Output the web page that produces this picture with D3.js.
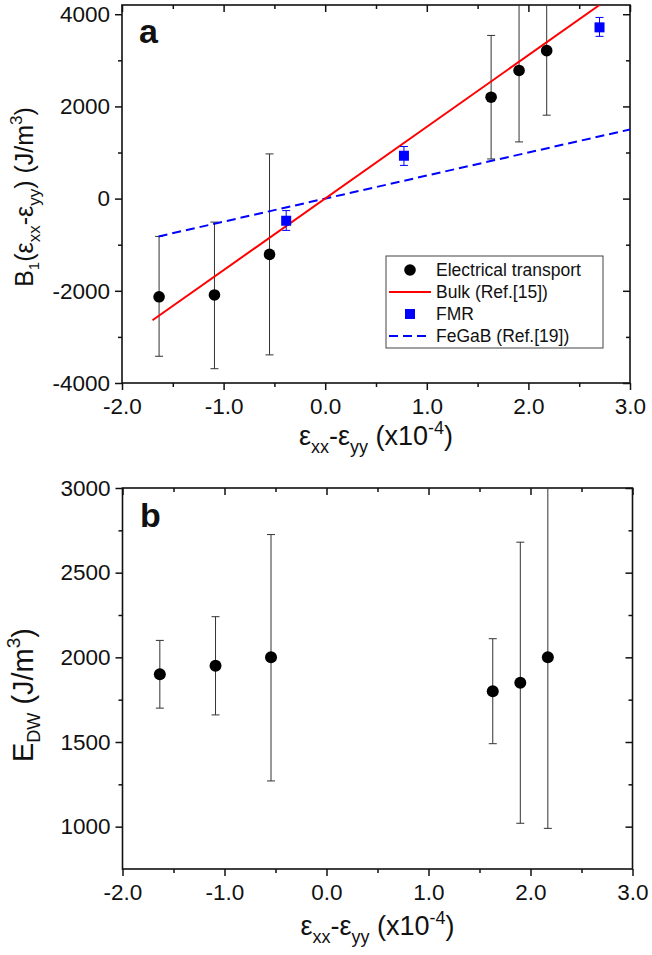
<!DOCTYPE html>
<html>
<head>
<meta charset="utf-8">
<script src="https://cdn.jsdelivr.net/npm/d3@7"></script>
<style>
  html, body { margin: 0; padding: 0; background: #fff; }
  svg { display: block; }
  text { font-family: "Liberation Sans", Arial, sans-serif; fill: #111; }
</style>
</head>
<body>
<svg id="chart" width="652" height="955"></svg>
<script>
// ---------------- data ----------------
// Panel a: Electrical transport
const strainET = [-1.635, -1.09, -0.548, 1.633, 1.908, 2.18];
const b1ET     = [-2130, -2090, -1210, 2200, 2780, 3210];
const b1ETLow  = [-3420, -3690, -3390, 860, 1230, 1810];
const b1ETHigh = [-820, -510, 970, 3540, 4330, 4610];
// Panel a: FMR
const strainFMR = [-0.384, 0.775, 2.70];
const b1FMR     = [-480, 930, 3715];
const b1FMRLow  = [-690, 720, 3520];
const b1FMRHigh = [-260, 1130, 3930];
// Panel a: reference lines (endpoints)
const bulkX  = [-1.7, 2.7];
const bulkY  = [-2640, 4200];
const fegabX = [-1.64, 3.0];
const fegabY = [-820, 1500];
// Panel b: domain wall energy
const strainDW = [-1.634, -1.088, -0.544, 1.63, 1.90, 2.17];
const eDW      = [1900, 1950, 2000, 1800, 1850, 2000];
const eDWLow   = [1700, 1660, 1270, 1490, 1020, 990];
const eDWHigh  = [2100, 2240, 2725, 2110, 2680, 3010];
// ticks
const xMajor = [-2, -1, 0, 1, 2, 3];
const xMinor = [-1.5, -0.5, 0.5, 1.5, 2.5];
const yaMajor = [-4000, -2000, 0, 2000, 4000];
const yaMinor = [-3000, -1000, 1000, 3000];
const ybMajor = [1000, 1500, 2000, 2500, 3000];
const ybMinor = [1250, 1750, 2250, 2750];
const legendLabels = ["Electrical transport", "Bulk (Ref.[15])", "FMR", "FeGaB (Ref.[19])"];

// ---------------- drawing ----------------
const svg = d3.select("#chart");
const BLUE = "#0000ff", RED = "#ff0000", ERR = "#333";

function frame(g, x, y, xMaj, xMin, yMaj, yMin, yFmt) {
  const [x0, x1] = x.range();
  const [y0, y1] = y.range(); // y0 bottom, y1 top
  const fs = "22.5px";
  g.append("g").attr("transform", `translate(0,${y0})`)
    .call(d3.axisBottom(x).tickValues(xMaj).tickSize(7).tickPadding(8).tickFormat(d => d.toFixed(1)));
  g.append("g").attr("transform", `translate(0,${y0})`)
    .call(d3.axisBottom(x).tickValues(xMin).tickSize(4).tickFormat(""));
  g.append("g").attr("transform", `translate(0,${y1})`)
    .call(d3.axisTop(x).tickValues(xMaj).tickSize(-7).tickFormat(""));
  g.append("g").attr("transform", `translate(0,${y1})`)
    .call(d3.axisTop(x).tickValues(xMin).tickSize(-4).tickFormat(""));
  g.append("g").attr("transform", `translate(${x0},0)`)
    .call(d3.axisLeft(y).tickValues(yMaj).tickSize(7).tickPadding(5).tickFormat(yFmt));
  g.append("g").attr("transform", `translate(${x0},0)`)
    .call(d3.axisLeft(y).tickValues(yMin).tickSize(4).tickFormat(""));
  g.append("g").attr("transform", `translate(${x1},0)`)
    .call(d3.axisRight(y).tickValues(yMaj).tickSize(-7).tickFormat(""));
  g.append("g").attr("transform", `translate(${x1},0)`)
    .call(d3.axisRight(y).tickValues(yMin).tickSize(-4).tickFormat(""));
  g.selectAll(".domain").remove();
  g.selectAll(".tick line").attr("stroke", "#111").attr("stroke-width", 1.5);
  g.selectAll(".tick text").attr("font-size", fs).attr("font-family", "Liberation Sans, Arial, sans-serif").attr("fill", "#222");
  g.append("rect").attr("x", x0).attr("y", y1).attr("width", x1 - x0).attr("height", y0 - y1)
    .attr("fill", "none").attr("stroke", "#111").attr("stroke-width", 1.6);
}

function xLabel(g, cx, by) {
  const t = g.append("text").attr("x", cx).attr("y", by).attr("text-anchor", "middle")
    .attr("font-size", "27px").attr("fill", "#222");
  t.append("tspan").text("ε");
  t.append("tspan").attr("font-size", "18px").attr("dy", 8).text("xx");
  t.append("tspan").attr("dy", -8).text("-ε");
  t.append("tspan").attr("font-size", "18px").attr("dy", 8).text("yy");
  t.append("tspan").attr("dy", -8).text(" (x10");
  t.append("tspan").attr("font-size", "18px").attr("dy", -11).text("-4");
  t.append("tspan").attr("dy", 11).text(")");
}

function errorBars(g, x, y, xs, lo, hi, color, cap) {
  const idx = d3.range(xs.length);
  g.selectAll(null).data(idx).join("line")
    .attr("x1", i => x(xs[i])).attr("x2", i => x(xs[i]))
    .attr("y1", i => y(lo[i])).attr("y2", i => y(hi[i]))
    .attr("stroke", color).attr("stroke-width", 1);
  [lo, hi].forEach(arr => {
    g.selectAll(null).data(idx).join("line")
      .attr("x1", i => x(xs[i]) - cap).attr("x2", i => x(xs[i]) + cap)
      .attr("y1", i => y(arr[i])).attr("y2", i => y(arr[i]))
      .attr("stroke", color).attr("stroke-width", 1);
  });
}

// ---------- Panel a ----------
const xa = d3.scaleLinear().domain([-2, 3]).range([122, 630]);
const ya = d3.scaleLinear().domain([-4000, 4200]).range([383, 5]);
const ga = svg.append("g");
ga.append("defs").append("clipPath").attr("id", "clipA")
  .append("rect").attr("x", 122).attr("y", 5).attr("width", 508).attr("height", 378);
frame(ga, xa, ya, xMajor, xMinor, yaMajor, yaMinor, d => String(d));

const pa = ga.append("g").attr("clip-path", "url(#clipA)");
const line = (xs, ys) => d3.line().x(i => xa(xs[i])).y(i => ya(ys[i]))(d3.range(xs.length));
errorBars(pa, xa, ya, strainET, b1ETLow, b1ETHigh, ERR, 4);
pa.append("path").attr("d", line(fegabX, fegabY)).attr("fill", "none")
  .attr("stroke", BLUE).attr("stroke-width", 2).attr("stroke-dasharray", "9,5");
pa.append("path").attr("d", line(bulkX, bulkY)).attr("fill", "none")
  .attr("stroke", RED).attr("stroke-width", 2);
errorBars(pa, xa, ya, strainFMR, b1FMRLow, b1FMRHigh, BLUE, 4);
pa.selectAll(null).data(d3.range(strainFMR.length)).join("rect")
  .attr("x", i => xa(strainFMR[i]) - 5).attr("y", i => ya(b1FMR[i]) - 5)
  .attr("width", 10).attr("height", 10).attr("fill", BLUE);
pa.selectAll(null).data(d3.range(strainET.length)).join("circle")
  .attr("cx", i => xa(strainET[i])).attr("cy", i => ya(b1ET[i])).attr("r", 5.8).attr("fill", "#000");

ga.append("text").attr("x", 139).attr("y", 43).attr("font-size", "34px").attr("font-weight", "bold")
  .attr("fill", "#000").text("a");

{
  const t = ga.append("text").attr("transform", "translate(33,197) rotate(-90)")
    .attr("text-anchor", "middle").attr("font-size", "25px").attr("fill", "#222");
  t.append("tspan").text("B");
  t.append("tspan").attr("font-size", "15px").attr("dy", 6).text("1");
  t.append("tspan").attr("dy", -6).text("(ε");
  t.append("tspan").attr("font-size", "17px").attr("dy", 7).text("xx");
  t.append("tspan").attr("dy", -7).text("-ε");
  t.append("tspan").attr("font-size", "17px").attr("dy", 7).text("yy");
  t.append("tspan").attr("dy", -7).text(") (J/m");
  t.append("tspan").attr("font-size", "17px").attr("dy", -11).text("3");
  t.append("tspan").attr("dy", 11).text(")");
}
xLabel(ga, 376, 445);

// legend
{
  const lg = ga.append("g");
  lg.append("rect").attr("x", 386).attr("y", 256).attr("width", 217).attr("height", 92)
    .attr("fill", "#fff").attr("stroke", "#444").attr("stroke-width", 1);
  const rows = d3.range(legendLabels.length);
  const ry = d3.scalePoint().domain(rows).range([270, 336]);
  lg.selectAll(null).data(rows).join("text")
    .attr("x", 436).attr("y", i => ry(i)).attr("dy", "0.36em")
    .attr("font-size", "17.5px").attr("fill", "#222").text(i => legendLabels[i]);
  lg.append("circle").attr("cx", 410).attr("cy", ry(0)).attr("r", 5.8).attr("fill", "#000");
  lg.append("line").attr("x1", 389).attr("x2", 431).attr("y1", ry(1)).attr("y2", ry(1))
    .attr("stroke", RED).attr("stroke-width", 2);
  lg.append("rect").attr("x", 405).attr("y", ry(2) - 5).attr("width", 10).attr("height", 10).attr("fill", BLUE);
  lg.append("line").attr("x1", 389).attr("x2", 431).attr("y1", ry(3)).attr("y2", ry(3))
    .attr("stroke", BLUE).attr("stroke-width", 2).attr("stroke-dasharray", "9,5");
}

// ---------- Panel b ----------
const xb = d3.scaleLinear().domain([-2, 3]).range([122.5, 632.5]);
const yb = d3.scaleLinear().domain([750, 3000]).range([869, 488]);
const gb = svg.append("g");
gb.append("defs").append("clipPath").attr("id", "clipB")
  .append("rect").attr("x", 122.5).attr("y", 488).attr("width", 510).attr("height", 381);
frame(gb, xb, yb, xMajor, xMinor, ybMajor, ybMinor, d => String(d));
const pb = gb.append("g").attr("clip-path", "url(#clipB)");
errorBars(pb, xb, yb, strainDW, eDWLow, eDWHigh, ERR, 4);
pb.selectAll(null).data(d3.range(strainDW.length)).join("circle")
  .attr("cx", i => xb(strainDW[i])).attr("cy", i => yb(eDW[i])).attr("r", 6).attr("fill", "#000");

gb.append("text").attr("x", 140).attr("y", 527).attr("font-size", "34px").attr("font-weight", "bold")
  .attr("fill", "#000").text("b");

{
  const t = gb.append("text").attr("transform", "translate(33,695) rotate(-90)")
    .attr("text-anchor", "middle").attr("font-size", "29px").attr("fill", "#222");
  t.append("tspan").text("E");
  t.append("tspan").attr("font-size", "18px").attr("dy", 7).text("DW");
  t.append("tspan").attr("dy", -7).text(" (J/m");
  t.append("tspan").attr("font-size", "19px").attr("dy", -13).text("3");
  t.append("tspan").attr("dy", 13).text(")");
}
xLabel(gb, 377.5, 935);
</script>
</body>
</html>
